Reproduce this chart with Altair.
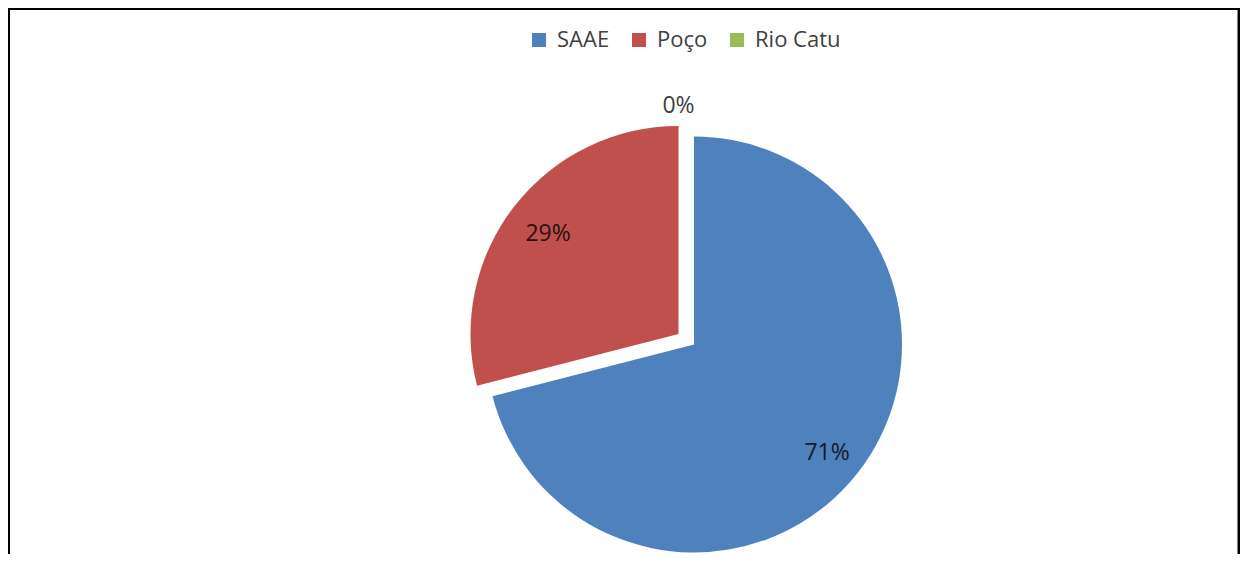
import altair as alt
import pandas as pd

categories = ["SAAE", "Poço", "Rio Catu"]
values = [71, 29, 0]
labels = ["71%", "29%", "0%"]
colors = ["#4F81BD", "#C0504D", "#9BBB59"]

ends = []
acc = 0
for v in values:
    acc += v
    ends.append(acc)
starts = [e - v for e, v in zip(ends, values)]
df = pd.DataFrame({
    "cat": categories,
    "value": values,
    "label": labels,
    "start": starts,
    "end": ends,
    "mid": [(s + e) / 2 for s, e in zip(starts, ends)],
})

W, H = 1232, 546
CX, CY = 686, 336.5
DX, DY = -15.5, -10.5
R = 208
FONT = "Open Sans"

theta_scale = alt.Scale(domain=[0, 100], range=[0, 6.283185307])
color = alt.Color(
    "cat:N",
    scale=alt.Scale(domain=categories, range=colors),
    sort=categories,
    legend=alt.Legend(
        title=None, orient="none", direction="horizontal",
        legendX=520, legendY=21, symbolType="square", symbolSize=196,
        symbolStrokeWidth=0, labelFont=FONT, labelFontSize=22,
        labelColor="#404040", labelOffset=7, columnPadding=18,
    ),
)

base = alt.Chart(df)

arc_main = base.transform_filter(alt.datum.cat != "Poço").mark_arc(
    x=CX, y=CY, outerRadius=R
).encode(
    theta=alt.Theta("start:Q", scale=theta_scale),
    theta2="end:Q",
    color=color,
)
arc_exp = base.transform_filter(alt.datum.cat == "Poço").mark_arc(
    x=CX + DX, y=CY + DY, outerRadius=R
).encode(
    theta=alt.Theta("start:Q", scale=theta_scale),
    theta2="end:Q",
    color=color,
)

def label_layer(cat, cx, cy, radius, col, dx=0, dy=0):
    return base.transform_filter(alt.datum.cat == cat).mark_text(
        x=cx, y=cy, radius=radius, font=FONT, fontSize=23, color=col,
        dx=dx, dy=dy,
    ).encode(
        theta=alt.Theta("mid:Q", scale=theta_scale),
        text="label:N",
    )

t1 = label_layer("SAAE", CX, CY, 171, "#111a2a", dx=-2, dy=4)
t2 = label_layer("Poço", CX + DX, CY + DY, 165, "#2a1010", dx=0, dy=1)
t3 = label_layer("Rio Catu", CX + DX, CY + DY, 229, "#404040", dx=0, dy=1)

frame_df = pd.DataFrame({"a": [0]})
fb = alt.Chart(frame_df)
left = fb.mark_rule(color="black", strokeWidth=3).encode(
    x=alt.value(0.5), y=alt.value(0), y2=alt.value(H))
top = fb.mark_rule(color="black", strokeWidth=3).encode(
    x=alt.value(0), x2=alt.value(W), y=alt.value(0.5))
right = fb.mark_rule(color="black", strokeWidth=3).encode(
    x=alt.value(W - 1), y=alt.value(0), y2=alt.value(H))

chart = alt.layer(arc_main, arc_exp, t1, t2, t3, left, top, right).properties(
    width=W, height=H, autosize=alt.AutoSizeParams(type="none"), padding=0,
    background="white",
).configure_view(stroke=None)

chart.save("out.html", embed_options={"renderer": "svg", "actions": False})
